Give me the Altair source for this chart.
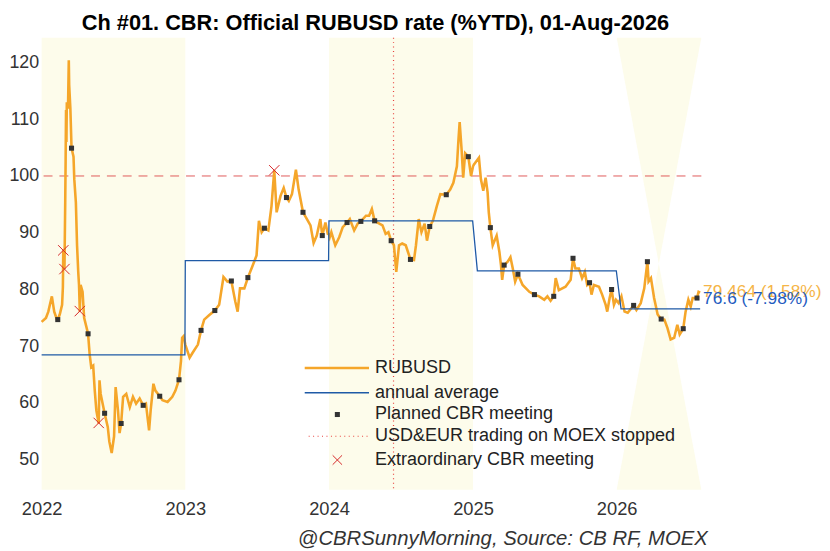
import altair as alt
import pandas as pd

# ---------------- data ----------------
rub_dates = [
    "2022-01-01", "2022-01-12", "2022-01-18", "2022-01-27", "2022-02-02", "2022-02-09", "2022-02-11",
    "2022-02-16", "2022-02-22", "2022-02-24", "2022-02-25", "2022-02-28", "2022-03-02", "2022-03-03",
    "2022-03-04", "2022-03-05", "2022-03-06", "2022-03-09", "2022-03-11", "2022-03-12", "2022-03-15",
    "2022-03-18", "2022-03-23", "2022-03-25", "2022-03-29", "2022-04-01", "2022-04-04", "2022-04-06",
    "2022-04-08", "2022-04-10", "2022-04-15", "2022-04-19", "2022-04-29", "2022-05-03", "2022-05-07",
    "2022-05-12", "2022-05-16", "2022-05-20", "2022-05-26", "2022-05-28", "2022-05-31", "2022-06-10",
    "2022-06-18", "2022-06-22", "2022-06-28", "2022-07-04", "2022-07-08", "2022-07-14", "2022-07-18",
    "2022-07-22", "2022-07-27", "2022-08-04", "2022-08-13", "2022-08-21", "2022-08-29", "2022-09-07",
    "2022-09-16", "2022-09-23", "2022-10-01", "2022-10-05", "2022-10-12", "2022-10-17", "2022-10-28",
    "2022-11-04", "2022-11-17", "2022-11-29", "2022-12-07", "2022-12-16", "2022-12-21", "2022-12-24",
    "2022-12-28",
    "2023-01-01", "2023-01-12", "2023-01-20", "2023-02-02", "2023-02-10", "2023-02-18", "2023-03-03",
    "2023-03-17", "2023-03-28", "2023-04-08", "2023-04-18", "2023-04-28", "2023-05-08", "2023-05-14",
    "2023-05-20", "2023-05-31", "2023-06-09", "2023-06-20", "2023-07-01", "2023-07-07", "2023-07-14",
    "2023-07-21", "2023-07-31", "2023-08-08", "2023-08-15", "2023-08-21", "2023-08-31", "2023-09-08",
    "2023-09-15", "2023-09-21", "2023-09-29", "2023-10-09", "2023-10-16", "2023-10-27", "2023-11-06",
    "2023-11-15", "2023-11-23", "2023-12-01", "2023-12-10", "2023-12-15", "2023-12-23", "2023-12-29",
    "2024-01-01", "2024-01-03", "2024-01-07", "2024-01-17", "2024-01-27", "2024-02-05", "2024-02-16",
    "2024-02-23", "2024-03-05", "2024-03-14", "2024-03-22", "2024-04-04", "2024-04-12", "2024-04-19",
    "2024-04-26", "2024-05-08", "2024-05-16", "2024-05-24", "2024-05-31", "2024-06-07", "2024-06-14",
    "2024-06-20", "2024-06-27", "2024-07-05", "2024-07-14", "2024-07-26", "2024-08-04", "2024-08-09",
    "2024-08-16", "2024-08-23", "2024-08-31", "2024-09-06", "2024-09-13", "2024-09-21", "2024-10-01",
    "2024-10-10", "2024-10-25", "2024-11-04", "2024-11-12", "2024-11-21", "2024-11-25", "2024-11-28",
    "2024-12-03", "2024-12-07", "2024-12-12", "2024-12-20", "2024-12-27",
    "2025-01-01", "2025-01-03", "2025-01-16", "2025-01-21", "2025-01-27", "2025-02-02", "2025-02-07",
    "2025-02-10", "2025-02-14", "2025-02-20", "2025-03-02", "2025-03-09", "2025-03-13", "2025-03-16",
    "2025-03-21", "2025-03-30", "2025-04-06", "2025-04-12", "2025-04-18", "2025-04-25", "2025-05-07",
    "2025-05-24", "2025-06-06", "2025-06-18", "2025-07-01", "2025-07-09", "2025-07-17", "2025-07-25",
    "2025-07-30", "2025-08-07", "2025-08-24", "2025-09-06", "2025-09-12", "2025-09-18", "2025-09-27",
    "2025-10-05", "2025-10-12", "2025-10-18", "2025-10-24", "2025-10-29", "2025-11-04", "2025-11-17",
    "2025-11-25", "2025-12-04", "2025-12-08", "2025-12-14", "2025-12-19", "2025-12-25", "2025-12-30",
    "2026-01-06", "2026-01-13", "2026-01-21", "2026-01-29", "2026-02-13", "2026-02-20", "2026-03-03",
    "2026-03-12", "2026-03-20", "2026-03-23", "2026-03-29", "2026-04-06", "2026-04-15", "2026-04-24",
    "2026-05-02", "2026-05-10", "2026-05-18", "2026-05-27", "2026-06-04", "2026-06-10", "2026-06-19",
    "2026-06-25", "2026-07-02", "2026-07-08", "2026-07-13", "2026-07-24", "2026-07-28", "2026-08-01",
]
rub_values = [
    74.3, 75.0, 76.1, 78.8, 76.1, 74.7, 74.7,
    75.6, 77.3, 80.4, 86.9, 83.6, 95.7, 103.0,
    111.6, 106.0, 113.0, 111.9, 120.4, 116.0, 111.9,
    104.9, 103.4, 99.4, 95.3, 87.8, 83.1, 80.8,
    76.1, 80.8, 79.6, 75.0, 72.2, 68.6, 66.3,
    66.6, 62.2, 58.7, 56.4, 64.0, 61.6, 58.2,
    55.8, 53.2, 51.2, 54.1, 62.8, 58.7, 54.7,
    56.4, 61.1, 61.6, 59.3, 61.1, 59.9, 60.8,
    59.6, 59.9, 55.2, 58.7, 63.4, 62.2, 61.2,
    60.5, 60.2, 61.1, 62.2, 64.1, 67.4, 71.5,
    71.8,
    70.3, 68.0, 68.9, 70.3, 72.8, 74.7, 75.5,
    76.3, 77.3, 82.2, 81.4, 81.5, 77.9, 76.1,
    80.2, 80.2, 82.1, 84.0, 86.0, 92.1, 90.1,
    90.8, 90.4, 94.7, 101.0, 93.6, 96.5, 97.9,
    96.2, 95.6, 96.8, 101.1, 97.6, 93.6, 92.4,
    91.3, 88.2, 89.5, 92.4, 89.5, 91.8, 89.8,
    89.7, 89.2, 90.1, 87.8, 89.2, 91.0, 91.8,
    92.4, 90.4, 91.6, 92.0, 93.0, 93.0, 94.2,
    92.1, 91.6, 91.3, 89.8, 90.1, 88.6, 87.8,
    83.1, 87.8, 88.1, 87.8, 85.3, 85.2, 87.8,
    92.4, 90.1, 91.6, 88.6, 91.1, 92.1, 94.7,
    96.8, 96.7, 97.6, 98.8, 101.7, 106.4, 109.5,
    104.6, 99.7, 104.0, 103.4, 100.0,
    101.7, 102.0, 103.2, 99.4, 97.4, 99.7, 97.1,
    93.6, 90.9, 87.8, 89.5, 86.6, 84.3, 81.7,
    84.3, 84.9, 85.7, 83.7, 81.4, 82.7, 80.8,
    79.6, 79.1, 78.8, 78.2, 78.8, 78.0, 78.8,
    82.0, 79.9, 80.5, 81.7, 85.5, 83.7, 83.7,
    82.0, 83.1, 80.8, 81.2, 79.1, 80.8, 80.5,
    79.1, 77.3, 76.1, 78.5, 80.0, 77.3, 78.2,
    77.6, 78.8, 76.1, 75.9, 77.2, 76.4, 77.6,
    80.2, 84.9, 81.4, 82.0, 78.5, 75.6, 74.8,
    74.7, 73.2, 71.2, 71.5, 73.8, 72.1, 73.1,
    76.1, 78.2, 77.0, 78.5, 78.5, 79.6, 79.464,
]

meeting_dates = [
    "2022-02-11", "2022-03-18", "2022-04-29", "2022-06-10", "2022-07-22", "2022-09-16", "2022-10-28", "2022-12-16",
    "2023-02-10", "2023-03-17", "2023-04-28", "2023-06-09", "2023-07-21", "2023-09-15", "2023-10-27", "2023-12-15",
    "2024-02-16", "2024-03-22", "2024-04-26", "2024-06-07", "2024-07-26", "2024-09-13", "2024-10-25", "2024-12-20",
    "2025-02-14", "2025-03-21", "2025-04-25", "2025-06-06", "2025-07-25", "2025-09-12", "2025-10-24", "2025-12-19",
    "2026-02-13", "2026-03-20", "2026-04-24", "2026-06-19", "2026-07-24",
]
meeting_values = [
    74.7, 104.9, 72.2, 58.2, 56.4, 59.6, 61.2, 64.1,
    72.8, 76.3, 81.5, 82.1, 90.8, 96.2, 93.6, 89.5,
    91.8, 92.0, 92.1, 88.6, 85.3, 91.1, 96.7, 103.4,
    90.9, 84.3, 82.7, 79.1, 78.8, 85.5, 81.2, 80.0,
    77.2, 84.9, 74.8, 73.1, 78.5,
]

extra_dates = ["2022-02-25", "2022-02-28", "2022-04-08", "2022-05-26", "2023-08-15"]
extra_values = [86.9, 83.6, 76.2, 56.5, 101.0]

avg_start = ["2022-01-01", "2023-01-01", "2024-01-01", "2025-01-12", "2026-01-12"]
avg_end = ["2022-12-31", "2023-12-31", "2024-12-31", "2025-12-31", "2026-08-01"]
avg_values = [68.5, 85.1, 92.1, 83.3, 76.6]

shade_start = ["2022-01-01", "2024-01-01"]
shade_end = ["2023-01-01", "2025-01-01"]
bow_dates = ["2026-01-01", "2026-04-18", "2026-08-04"]

moex_stop = "2024-06-13"
level_100 = 100
last_date = "2026-08-01"
last_rate, last_rate_txt = 79.464, "79.464 (1.58%)"
last_avg, last_avg_txt = 76.6, "76.6 (-7.98%)"

title_txt = "Ch #01. CBR: Official RUBUSD rate (%YTD), 01-Aug-2026"
caption_txt = "@CBRSunnyMorning, Source: CB RF, MOEX"

# ---------------- styling ----------------
ORANGE = "#F5A62A"
BLUE = "#1F5AA6"
RED = "#D62728"
SHADE = "#FDFCEB"
FONT = "Liberation Sans"
W, H = 667, 457
Y_LO, Y_HI = 44.74, 124.36

xs = alt.Scale(domain=[alt.DateTime(year=2022, month=1, date=1),
                       alt.DateTime(year=2026, month=8, date=4)], nice=False)
ys = alt.Scale(domain=[Y_LO, Y_HI], nice=False, zero=False)

xaxis = alt.Axis(
    values=[alt.DateTime(year=y, month=1, date=1) for y in range(2022, 2027)],
    format="%Y", labelFontSize=18.5, labelPadding=10, labelColor="#333",
    domain=False, ticks=False, grid=False,
    title=caption_txt, titleFontSize=20.5, titleFontStyle="italic",
    titleFontWeight="normal", titleColor="#333", titleAnchor="end",
    titleX=W + 6, titleAlign="right",
    titlePadding=11, labelFlush=False,
)
yaxis = alt.Axis(values=list(range(50, 121, 10)), labelFontSize=18,
                 labelPadding=3, labelColor="#333", domain=False,
                 ticks=False, grid=False, title=None)


def X(f):
    return alt.X(f"{f}:T", scale=xs, axis=xaxis)


def Y(f):
    return alt.Y(f"{f}:Q", scale=ys, axis=yaxis)


rub = pd.DataFrame({"date": pd.to_datetime(rub_dates), "v": rub_values})
meet = pd.DataFrame({"date": pd.to_datetime(meeting_dates), "v": meeting_values})
extra = pd.DataFrame({"date": pd.to_datetime(extra_dates), "v": extra_values})
avg_rows = []
for s, e, v in zip(avg_start, avg_end, avg_values):
    avg_rows.append({"date": pd.Timestamp(s), "v": v})
    avg_rows.append({"date": pd.Timestamp(e), "v": v})
avg = pd.DataFrame(avg_rows)
shade = pd.DataFrame({"s": pd.to_datetime(shade_start), "e": pd.to_datetime(shade_end),
                      "lo": [Y_LO] * 2, "hi": [Y_HI] * 2})
mid = (Y_LO + Y_HI) / 2
bow = pd.DataFrame({
    "date": pd.to_datetime(bow_dates * 2),
    "a": [Y_HI, Y_HI, Y_HI, Y_LO, Y_LO, Y_LO],
    "b": [Y_HI, mid, Y_HI, Y_LO, mid, Y_LO],
    "part": ["top"] * 3 + ["bottom"] * 3,
})
hline = pd.DataFrame({"v": [level_100]})
vline = pd.DataFrame({"date": [pd.Timestamp(moex_stop)]})
labels = pd.DataFrame({"date": [pd.Timestamp(last_date)] * 2,
                       "v": [last_rate, last_avg],
                       "t": [last_rate_txt, last_avg_txt]})

DOT_RED = "#E8413C"

layers = []
layers.append(alt.Chart(shade).mark_rect(color=SHADE).encode(
    x=X("s"), x2="e", y=Y("lo"), y2="hi"))
layers.append(alt.Chart(bow).mark_area(color=SHADE, orient="vertical").encode(
    x=X("date"), y=Y("a"), y2="b", detail="part:N"))
layers.append(alt.Chart(hline).mark_rule(color="#E05A5A", strokeWidth=1,
                                         strokeDash=[9, 7]).encode(y=Y("v")))
layers.append(alt.Chart(vline).mark_rule(color=DOT_RED, strokeWidth=1.2,
                                         strokeDash=[1, 3.5]).encode(x=X("date")))
layers.append(alt.Chart(rub).mark_line(color=ORANGE, strokeWidth=2.6).encode(
    x=X("date"), y=Y("v")))
layers.append(alt.Chart(avg).mark_line(color=BLUE, strokeWidth=1.3).encode(
    x=X("date"), y=Y("v")))
layers.append(alt.Chart(meet).mark_square(size=26, color="#333333", opacity=1).encode(
    x=X("date"), y=Y("v")))
XSHAPE = "M-1,-1L1,1M1,-1L-1,1"
layers.append(alt.Chart(extra).mark_point(shape=XSHAPE, size=110, color=RED,
                                          strokeWidth=1, filled=False, opacity=1).encode(
    x=X("date"), y=Y("v")))
layers.append(alt.Chart(labels.iloc[[0]]).mark_text(
    align="left", baseline="middle", dx=3, dy=0, fontSize=17.5,
    color="#F5B547", font=FONT).encode(x=X("date"), y=Y("v"), text="t:N"))
layers.append(alt.Chart(labels.iloc[[1]]).mark_text(
    align="left", baseline="middle", dx=3, dy=-10, fontSize=17.5,
    color="#1F5CC0", font=FONT).encode(x=X("date"), y=Y("v"), text="t:N"))

# ---------------- manual legend ----------------
leg_rows = [334, 359, 381, 403, 427]
LX0, LX1, LSYM, LTXT = 266, 331, 299, 337
one = pd.DataFrame({"k": [0]})
layers.append(alt.Chart(one).mark_rule(color=ORANGE, strokeWidth=2.6).encode(
    x=alt.value(LX0), x2=alt.value(LX1), y=alt.value(leg_rows[0])))
layers.append(alt.Chart(one).mark_rule(color=BLUE, strokeWidth=1.3).encode(
    x=alt.value(LX0), x2=alt.value(LX1), y=alt.value(leg_rows[1])))
layers.append(alt.Chart(one).mark_square(size=26, color="#333333", opacity=1).encode(
    x=alt.value(LSYM), y=alt.value(leg_rows[2])))
layers.append(alt.Chart(one).mark_rule(color=DOT_RED, strokeWidth=1.2,
                                       strokeDash=[1, 3.5]).encode(
    x=alt.value(LX0 + 4), x2=alt.value(LX1), y=alt.value(leg_rows[3])))
layers.append(alt.Chart(one).mark_point(shape=XSHAPE, size=90, color=RED,
                                        strokeWidth=1, filled=False, opacity=1).encode(
    x=alt.value(LSYM), y=alt.value(leg_rows[4])))
leg_texts = ["RUBUSD", "annual average", "Planned CBR meeting",
             "USD&EUR trading on MOEX stopped", "Extraordinary CBR meeting"]
for yy, tt in zip(leg_rows, leg_texts):
    layers.append(alt.Chart(one).mark_text(align="left", baseline="middle",
                                           fontSize=18.2, color="#222", font=FONT).encode(
        x=alt.value(LTXT), y=alt.value(yy), text=alt.value(tt)))

chart = alt.layer(*layers).properties(
    width=W, height=H,
    padding={"left": 0, "top": 0, "right": 0, "bottom": 0},
    title=alt.TitleParams(title_txt, fontSize=22, fontWeight="bold",
                          anchor="middle", dx=4, offset=2.5, color="#000", font=FONT),
).configure(font=FONT).configure_view(stroke=None)

chart.save("out.html", embed_options={"renderer": "svg", "actions": False})
